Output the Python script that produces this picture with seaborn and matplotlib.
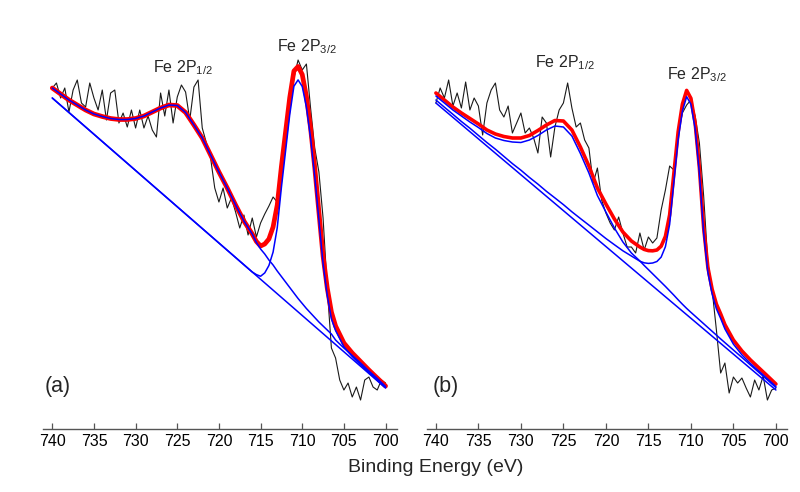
import numpy as np
import matplotlib
matplotlib.use("Agg")
import matplotlib.pyplot as plt
import seaborn as sns

# =======================
# Data (intensity in arbitrary units)
# =======================
# raw scan, 0.5 eV steps from 740 down to 700 eV
scan_e = np.arange(740, 699.75, -0.5)
# energies where the fitted curves were read
fit_e = [740, 739, 738, 737, 736, 735, 734, 733, 732, 731, 730, 729, 728, 727, 726,
         725, 724, 723, 722, 721, 720, 719, 718, 717, 716,
         715.5, 715, 714.5, 714, 713.5, 713, 712.5, 712, 711.5, 711, 710.5, 710,
         709.5, 709, 708.5, 708, 707.5, 707, 706.5, 706,
         705, 704, 703, 702, 701, 700]
bg_e = [740, 700]

# ---- panel (a)
raw_a = [340, 345, 330, 340, 316, 338, 348, 325, 321, 345,
         330, 318, 338, 308, 335, 338, 305, 315, 301, 318,
         300, 318, 300, 312, 298, 291, 335, 312, 338, 305,
         331, 343, 336, 308, 341, 348, 300, 285, 270, 240,
         226, 240, 220, 230, 216, 200, 213, 193, 210, 191,
         205, 214, 222, 231, 226, 255, 288, 318, 350, 368,
         358, 364, 320, 280, 256, 210, 140, 80, 70, 48,
         38, 45, 31, 41, 28, 48, 51, 41, 38, 48,
         45]
env_a = [340, 334, 328, 323, 318, 314, 311.5, 309.5, 308.5, 308.5, 309.5, 312, 316, 320, 323,
         322.5, 315.5, 303, 290, 273, 256, 240, 223, 207, 194,
         186.5, 182, 184, 189, 201, 223, 261.5, 296, 330.5, 357, 361.5, 353.5,
         331.5, 300, 260.5, 216, 172, 140, 116, 102,
         85, 75, 66.5, 58, 50, 42]
p12_a = [340, 334, 328, 323, 318, 314, 311.5, 309.5, 308.5, 308.5, 309.5, 312, 316, 320, 323,
         322.5, 315.5, 303, 290, 273, 256, 240, 223, 207, 194,
         185.5, 179, 174, 168, 163, 157, 151.5, 146, 140.5, 135, 129.5, 124.5,
         119.5, 115, 110.5, 106, 102, 98, 94, 88,
         80, 72.5, 65, 57, 49.5, 41.5]
p32_a = [330, 322.75, 315.5, 308.25, 301, 293.75, 286.5, 279.25, 272, 264.75, 257.5, 250.25, 243, 235.75, 228.5,
         221.25, 214, 206.75, 199.5, 192.25, 185, 177.75, 170.5, 163.25, 156,
         153.4, 151.75, 155.1, 162.5, 175.9, 200.25, 240.6, 277, 313.4, 341.75, 348.1, 341.5,
         320.9, 290.25, 251.6, 208, 164.4, 132.75, 109.1, 97.5,
         81.25, 71.5, 63.25, 55.5, 47.75, 40.5]
bg_a = [330, 40]

# ---- panel (b)
raw_b = [325, 340, 330, 348, 322, 335, 320, 346, 318, 330,
         322, 293, 325, 338, 345, 318, 311, 322, 295, 305,
         315, 295, 300, 290, 275, 311, 305, 271, 301, 318,
         325, 345, 320, 301, 305, 288, 280, 245, 260, 228,
         215, 205, 198, 211, 195, 181, 181, 175, 195, 178,
         191, 185, 190, 218, 238, 262, 258, 295, 315, 323,
         328, 312, 285, 232, 165, 138, 98, 55, 65, 35,
         51, 45, 50, 40, 31, 48, 38, 52, 28, 38,
         40]
env_b = [335, 328, 321, 315, 309.5, 304, 298, 294, 291.5, 290, 290, 292.5, 297.5, 303, 307.5,
         307, 298, 281, 262, 240, 224, 209, 196, 187, 181,
         178.6, 177.4, 177.2, 178, 181.8, 191.6, 213.2, 254.8, 296.2, 323.8, 337.6, 329.7,
         304.9, 260.1, 200.3, 160.5, 138.7, 123.9, 114.1, 103.4,
         88, 77.1, 68.1, 60.1, 52.1, 44]
p12_b = [332, 325, 318, 312, 306, 300.5, 294.5, 290, 287.5, 286, 285.5, 288, 292.5, 298, 302,
         301, 292, 274.5, 255, 232.5, 216, 200, 186, 175, 167,
         162.6, 158.4, 154.2, 150, 145.8, 141.6, 137.2, 132.8, 128.2, 123.8, 119.6, 115.7,
         111.9, 108.1, 104.3, 100.5, 96.7, 92.9, 89.1, 85.4,
         78, 70.6, 63.1, 55.6, 48.1, 40.5]
p32_b = [328, 320.8, 313.7, 306.5, 299.8, 292.6, 285.5, 278.8, 271.6, 264.4, 257.8, 250.6, 243.9, 236.7, 230.1,
         223.4, 216.2, 209.5, 202.9, 196.2, 189.5, 183.3, 177.2, 172, 166.8,
         165.2, 164.6, 165, 166.5, 170.9, 181.3, 203.7, 246.1, 288.5, 316.9, 331.3, 323.8,
         299.2, 254.6, 195, 155.4, 133.8, 119.2, 109.6, 99.1,
         83.9, 73.2, 64.5, 56.9, 49.2, 41.5]
bg_b = [325, 38]

ticks = [740, 735, 730, 725, 720, 715, 710, 705, 700]

# =======================
# Style
# =======================
sns.set_theme(style="white")
plt.rcParams['font.family'] = ['Liberation Sans', 'DejaVu Sans']
plt.rcParams['mathtext.fontset'] = 'custom'
plt.rcParams['mathtext.rm'] = 'Liberation Sans'
plt.rcParams['mathtext.it'] = 'Liberation Sans:italic'

fig = plt.figure(figsize=(8, 4.92), dpi=100)
ax_a = fig.add_axes([0.0541, 0.128, 0.4416, 0.7907])
ax_b = fig.add_axes([0.5334, 0.128, 0.4505, 0.7907])


def draw_panel(ax, raw, env, p12, p32, bg, red_lw, tag, tag_x, lab12, lab32):
    sns.lineplot(x=scan_e, y=raw, ax=ax, color='#1a1a1a', linewidth=0.8, estimator=None)
    sns.lineplot(x=fit_e, y=env, ax=ax, color='#ff0000', linewidth=red_lw, estimator=None)
    sns.lineplot(x=bg_e, y=bg, ax=ax, color='#0000ff', linewidth=1.1, estimator=None)
    sns.lineplot(x=fit_e, y=p32, ax=ax, color='#0000ff', linewidth=1.1, estimator=None)
    sns.lineplot(x=fit_e, y=p12, ax=ax, color='#0000ff', linewidth=1.1, estimator=None)

    ax.set_xlim(741.08, 698.68)
    ax.set_ylim(-1, 388)
    ax.set_xticks(ticks)
    ax.set_xticklabels([str(t) for t in ticks])
    ax.set_yticks([])
    ax.set_xlabel('')
    ax.set_ylabel('')
    for s in ['left', 'top', 'right']:
        ax.spines[s].set_visible(False)
    ax.spines['bottom'].set_color('#555555')
    ax.spines['bottom'].set_linewidth(1.0)
    ax.tick_params(axis='x', direction='in', length=4.5, width=0.9, color='#555555',
                   labelsize=11.5, pad=3.5, labelcolor='black', bottom=True)

    ax.text(tag_x, 42, tag, ha='left', va='center', fontsize=15.5)
    ax.text(lab12[0], lab12[1], r'Fe 2P$_{\mathrm{1/2}}$', ha='left', va='baseline', fontsize=11.5)
    ax.text(lab32[0], lab32[1], r'Fe 2P$_{\mathrm{3/2}}$', ha='left', va='baseline', fontsize=11.5)


draw_panel(ax_a, raw_a, env_a, p12_a, p32_a, bg_a, 3.4, '(a)', 740.9, (727.9, 356), (713.0, 377))
draw_panel(ax_b, raw_b, env_b, p12_b, p32_b, bg_b, 2.6, '(b)', 740.35, (728.35, 361), (712.86, 349))

fig.text(436 / 800, 1 - 467 / 492, 'Binding Energy (eV)', ha='center', va='center', fontsize=14)

fig.savefig('out.png', dpi=100)
